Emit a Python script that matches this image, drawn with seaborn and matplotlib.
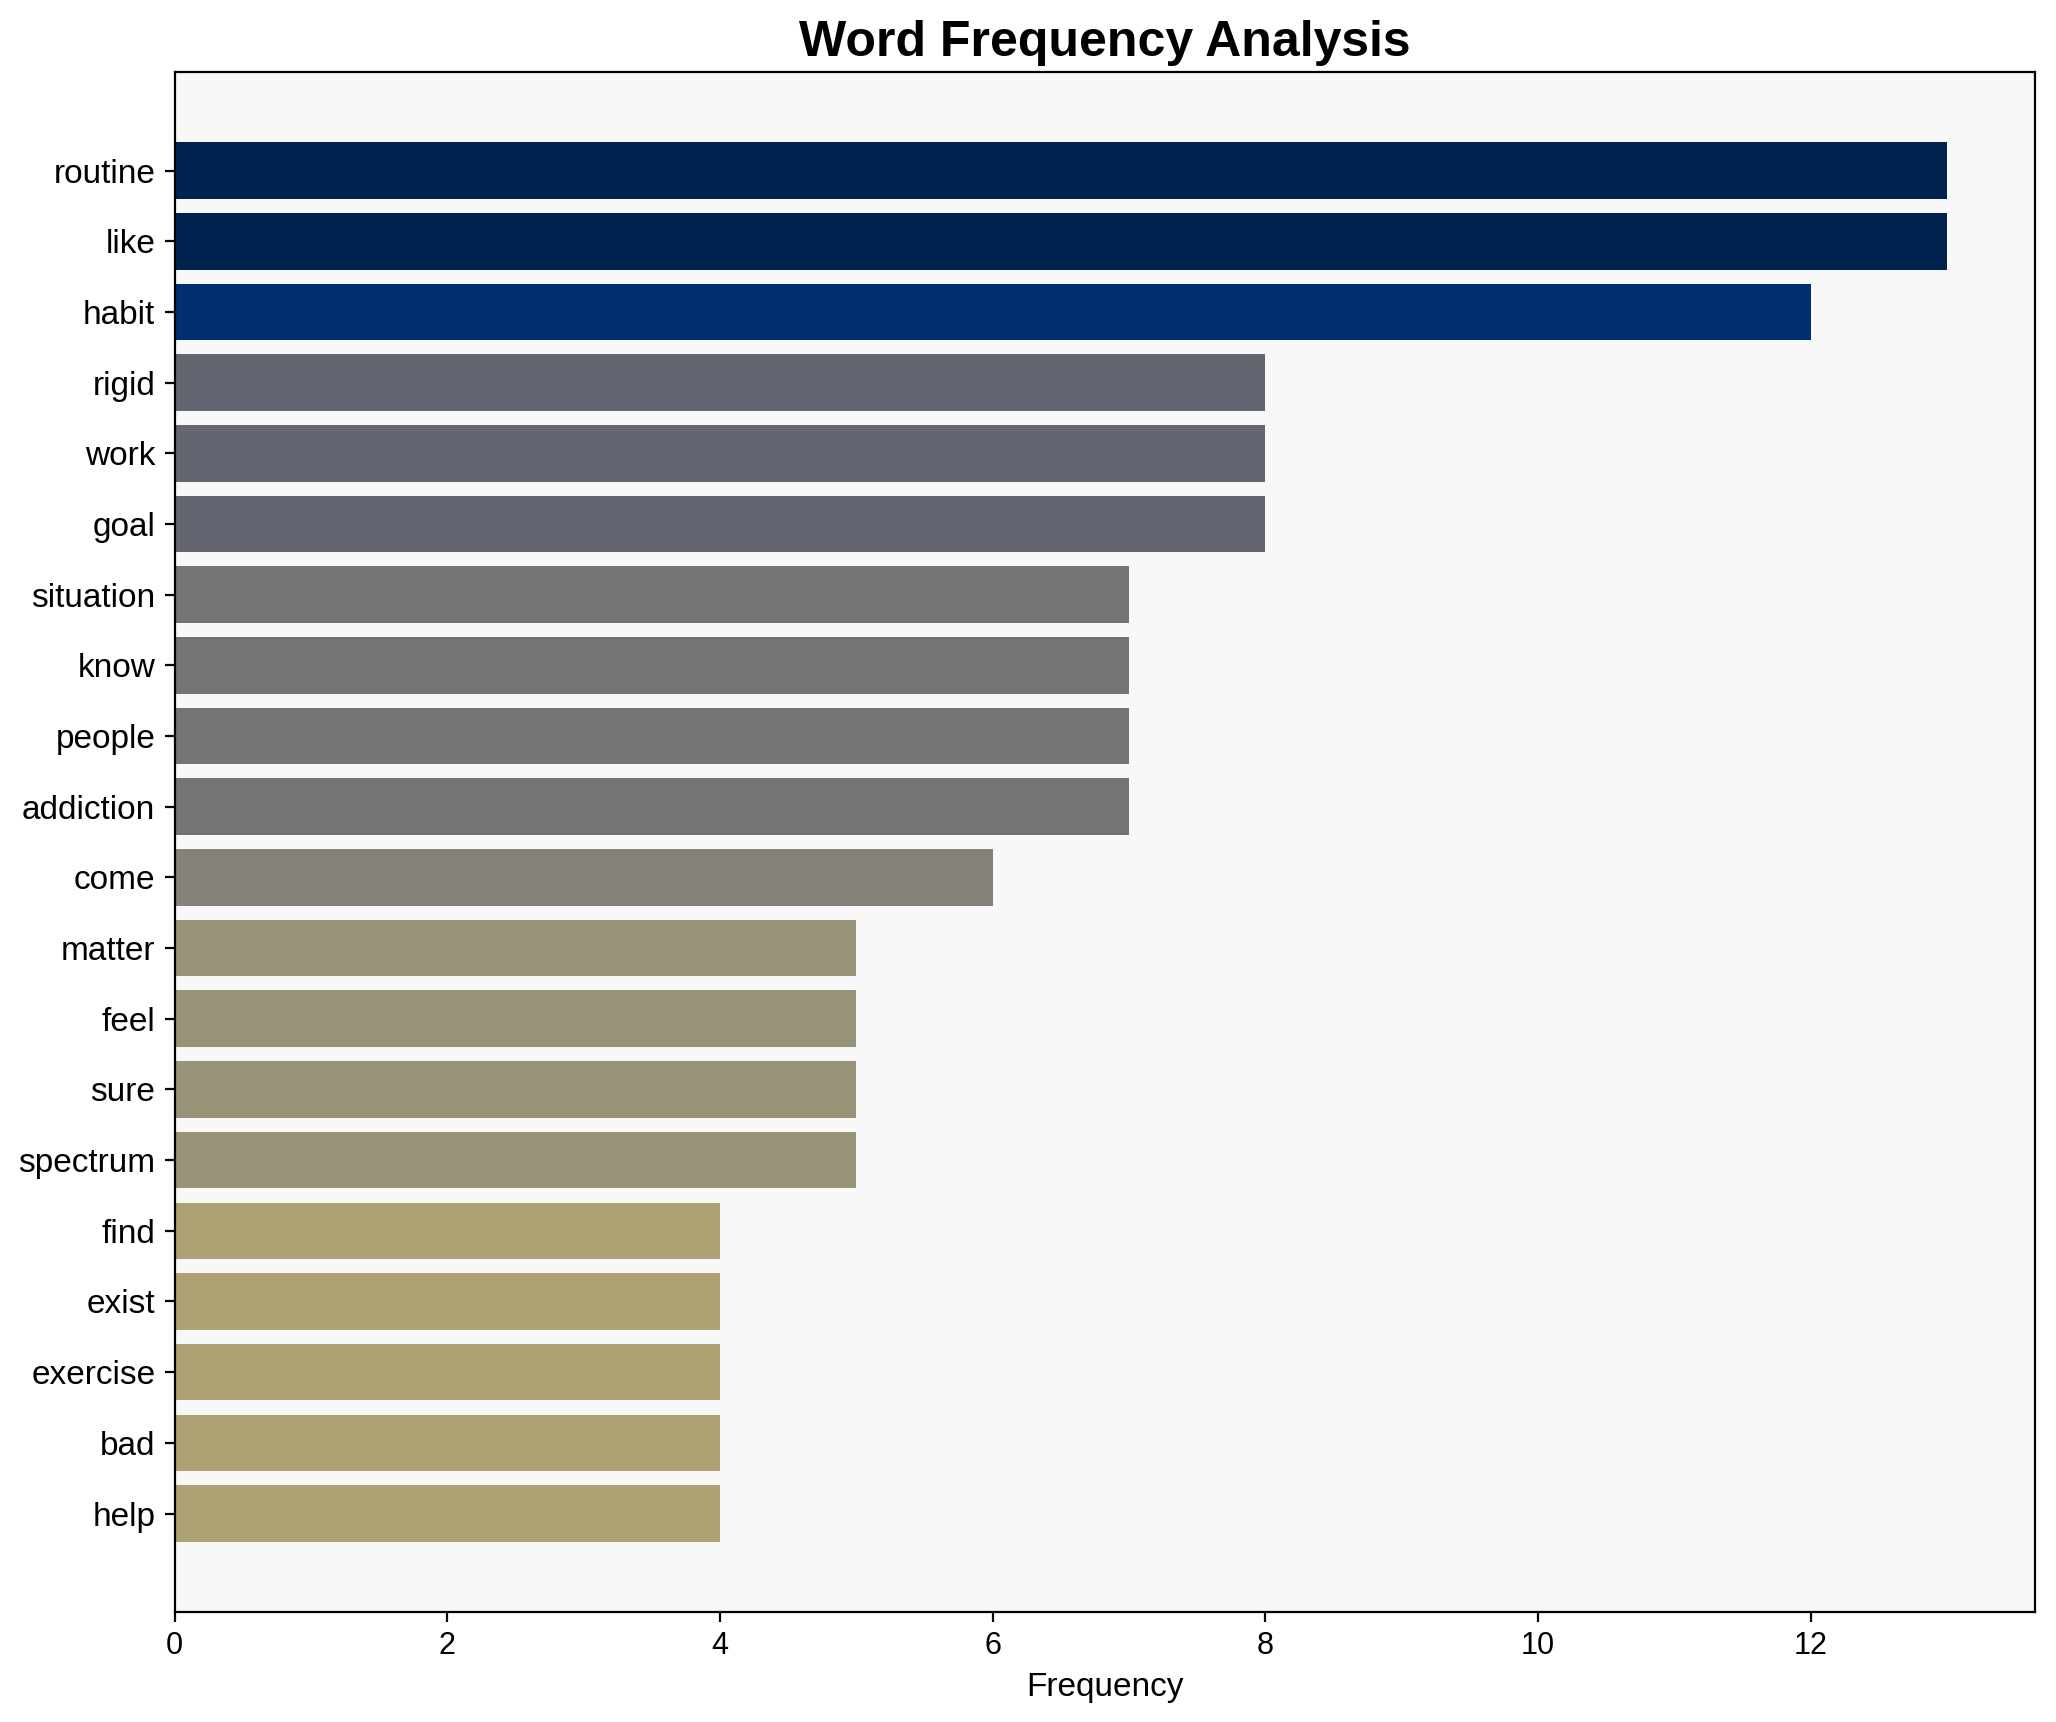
import numpy as np
import pandas as pd
import matplotlib
matplotlib.use("Agg")
import matplotlib.pyplot as plt
import seaborn as sns

words = ["routine", "like", "habit", "rigid", "work", "goal", "situation", "know",
         "people", "addiction", "come", "matter", "feel", "sure", "spectrum",
         "find", "exist", "exercise", "bad", "help"]
freqs = [13, 13, 12, 8, 8, 8, 7, 7, 7, 7, 6, 5, 5, 5, 5, 4, 4, 4, 4, 4]

plt.rcParams["font.family"] = ["Liberation Sans", "DejaVu Sans"]

df = pd.DataFrame({"word": words, "freq": freqs})
cmap = plt.get_cmap("cividis_r")
colors = [cmap(v / max(freqs)) for v in freqs]

fig, ax = plt.subplots(figsize=(10.28, 8.61), dpi=200)
fig.subplots_adjust(left=0.085, right=0.990, top=0.958, bottom=0.064)
ax.set_facecolor("#f8f8f8")

sns.barplot(data=df, x="freq", y="word", hue="word", palette=colors, legend=False,
            orient="h", saturation=1, width=0.8, linewidth=0, ax=ax)

# back to plain matplotlib margins around the bars
ax.set_ymargin(0.05)
ax.autoscale(axis="y")
if ax.get_ylim()[0] < ax.get_ylim()[1]:
    ax.invert_yaxis()

ax.set_title("Word Frequency Analysis", fontsize=18, fontweight="bold")
ax.set_xlabel("Frequency", fontsize=12)
ax.set_ylabel("")
ax.tick_params(axis="y", labelsize=12)
ax.tick_params(axis="x", labelsize=11)
for s in ax.spines.values():
    s.set_color("black")
    s.set_linewidth(0.8)

plt.savefig("out.png", dpi=200)
